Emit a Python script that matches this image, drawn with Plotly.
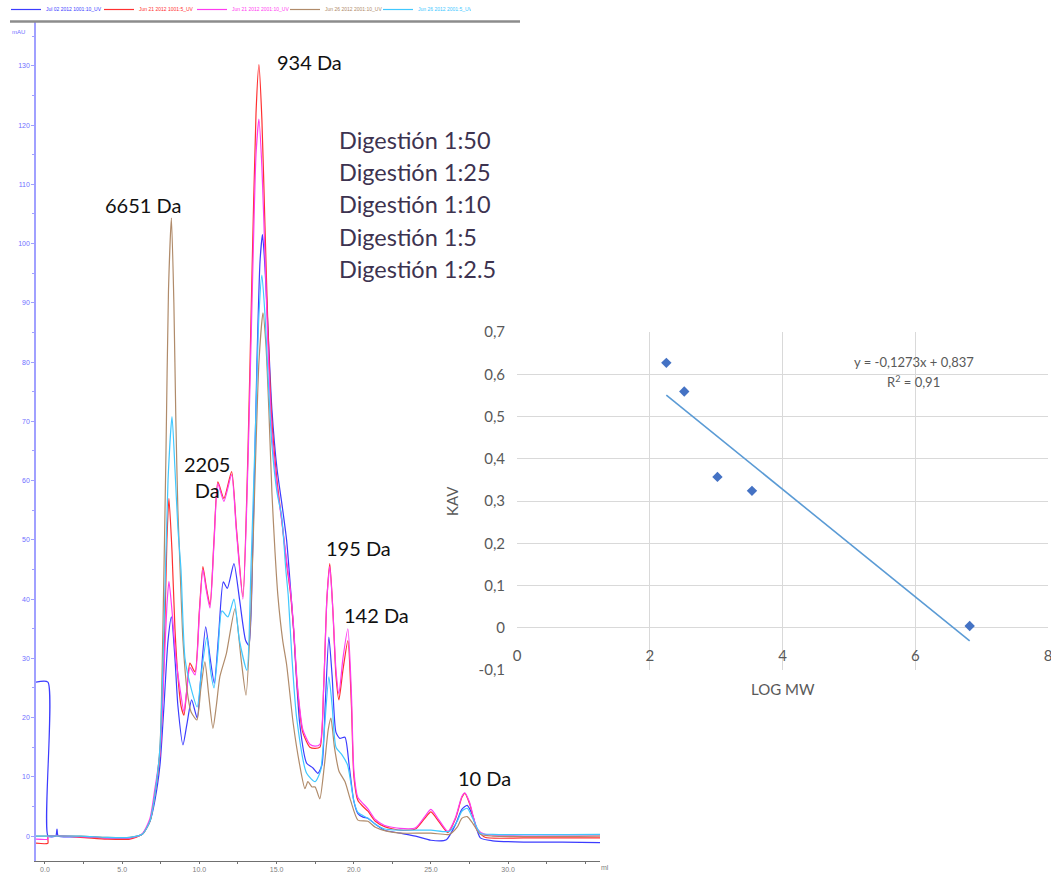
import plotly.graph_objects as go

W, H = 1051, 874

# ---------------- chromatogram data (x in ml, y in mAU) ----------------
series_names = ["Jul 02 2012 1001:10_UV", "Jun 21 2012 1001:5_UV", "Jun 21 2012 2001:10_UV",
                "Jun 26 2012 2001:10_UV", "Jun 26 2012 2001:5_UV"]
series_colors = ["#3c3cff", "#ff3030", "#ff3cf0", "#b08b6a", "#40c8ff"]

blue_x = [-0.58, 0.19, 0.2, 0.7, 0.78, 0.86, 2.3, 4.0, 5.5, 6.3, 6.8, 7.12, 7.45, 7.71, 7.97, 8.19, 8.42, 8.61,
          8.94, 9.2, 9.5, 9.86, 10.1, 10.41, 10.7, 10.97, 11.25, 11.55, 11.81, 12.24, 12.6, 13.0, 13.21, 13.47,
          13.73, 13.93, 14.09, 14.25, 14.44, 14.70, 15.03, 15.35, 15.65, 15.9, 16.1, 16.5, 16.95, 17.36, 17.68,
          17.94, 18.15, 18.39, 18.6, 18.85, 19.1, 19.43, 19.7, 20.0, 20.27, 20.6, 20.92, 21.4, 22.0, 23.0, 24.0,
          25.0, 26.0, 26.6, 27.0, 27.35, 27.7, 28.2, 29.0, 31.0, 33.5, 35.95]
blue_y = [26, 26, 0, 0, 1.2, 0, -0.1, -0.3, -0.3, 0.3, 2.5, 6, 12, 22, 33, 37, 30, 22,
          15.4, 19, 23, 19.9, 27, 35.3, 30, 25.8, 34, 42.9, 41.8, 46, 40, 33, 32.2, 50,
          80, 97, 101.5, 96, 86, 72, 62, 56, 50, 42, 35, 19, 12.3, 11.5, 10.6,
          12, 22, 33.6, 27, 17.5, 16.5, 16.7, 12, 6, 3.8, 3.2, 3, 2, 1, 0.5, 0,
          -0.7, -0.6, 2, 4.5, 5.2, 3.5, -0.3, -0.8, -1, -1, -1.1]

red_x = [-0.58, 0.19, 0.2, 2.3, 4.0, 5.5, 6.3, 6.8, 7.12, 7.45, 7.71, 7.9, 8.03, 8.23, 8.42, 8.61, 8.81, 9.0,
         9.2, 9.39, 9.72, 10.0, 10.23, 10.45, 10.69, 10.95, 11.20, 11.59, 12.09, 12.4, 12.82, 13.15, 13.41,
         13.67, 13.86, 14.05, 14.25, 14.44, 14.70, 15.03, 15.35, 15.65, 15.9, 16.1, 16.35, 16.7, 17.16, 17.5,
         17.81, 18.05, 18.26, 18.45, 18.65, 18.85, 19.04, 19.3, 19.62, 19.85, 20.01, 20.27, 20.6, 20.92, 21.4,
         22.0, 23.0, 24.0, 24.6, 25.0, 25.5, 26.1, 26.6, 27.0, 27.2, 27.5, 28.0, 28.5, 31.0, 35.95]
red_y = [-1.2, -1.2, 0, -0.2, -0.5, -0.5, 0.3, 2.5, 7, 14, 30, 50, 57, 48, 35, 27, 22, 20.4,
         25, 29.2, 27.7, 38, 45.5, 42, 39, 50, 59.8, 57, 61.5, 52, 40.4, 65, 95,
         122, 130.2, 121, 103, 86, 70, 60, 53, 46, 41, 35, 25, 17.5, 15, 14.8,
         15, 25, 40, 46, 38, 27, 23, 28, 33, 22, 10, 6, 5, 4.2, 2.5,
         1.6, 1, 1.2, 3, 4.1, 2.5, 0.6, 3, 6.5, 7.2, 5.5, 1, -0.2, -0.3, -0.3]

mag_x = [-0.58, 0.19, 0.2, 2.3, 4.0, 5.5, 6.3, 6.8, 7.12, 7.45, 7.71, 7.9, 8.03, 8.23, 8.48, 8.74, 9.0,
         9.2, 9.39, 9.72, 10.0, 10.23, 10.45, 10.69, 10.95, 11.20, 11.59, 12.09, 12.4, 12.82, 13.15, 13.41,
         13.67, 13.86, 14.05, 14.25, 14.44, 14.70, 15.03, 15.35, 15.65, 15.9, 16.1, 16.35, 16.7, 17.16, 17.5,
         17.81, 18.05, 18.26, 18.45, 18.65, 18.85, 19.04, 19.3, 19.62, 19.85, 20.01, 20.27, 20.6, 20.92, 21.4,
         22.0, 23.0, 24.0, 24.6, 25.0, 25.5, 26.1, 26.6, 27.0, 27.2, 27.5, 28.0, 28.5, 31.0, 35.95]
mag_y = [-0.5, -0.5, 0, -0.1, -0.3, -0.3, 0.4, 3, 8, 14, 28, 39, 43, 38, 30, 25, 21,
         25, 28.5, 27.2, 37.5, 45, 41.5, 38.5, 49.5, 59.5, 56.5, 61, 51.5, 40, 63, 90,
         115, 121, 113, 98, 83, 68, 59, 53, 46.5, 41.5, 35.5, 25.5, 18, 15.5, 15.2,
         15.5, 25, 40, 45.5, 38, 28, 24, 30, 35, 24, 11, 6.5, 5.5, 4.6, 2.8,
         1.8, 1.3, 1.4, 3.3, 4.5, 2.8, 0.8, 3.2, 6.7, 7.3, 5.7, 1.2, 0.3, 0.2, 0.2]

brown_x = [-0.58, 2.3, 4.0, 5.5, 6.3, 6.8, 7.12, 7.45, 7.64, 7.84, 8.0, 8.19, 8.35, 8.48, 8.61, 8.74, 8.94,
           9.2, 9.46, 9.84, 10.1, 10.36, 10.6, 10.88, 11.1, 11.33, 11.75, 12.31, 12.7, 13.02, 13.34, 13.60,
           13.86, 14.12, 14.31, 14.5, 14.7, 14.9, 15.09, 15.4, 15.65, 16.08, 16.5, 16.84, 17.03, 17.3, 17.5,
           17.8, 18.1, 18.35, 18.52, 18.75, 19.04, 19.43, 19.8, 20.27, 20.92, 21.4, 22.2, 23.0, 25.0, 26.2,
           26.7, 27.0, 27.35, 27.7, 28.2, 29.0, 35.95]
brown_y = [0, 0, -0.2, -0.2, 0.3, 2.5, 7, 15, 35, 65, 92, 104.3, 90, 70, 55, 46, 33,
           24.7, 21, 19.6, 25, 29.4, 24, 18.2, 22, 26.9, 30.8, 38.4, 30, 23.8, 38, 60,
           80, 88.3, 83, 72, 58, 48, 40.5, 33, 29, 19, 12, 8, 9.2, 8.3, 8.3,
           6.3, 12, 18, 19.9, 15, 11, 9.2, 6, 2.7, 2.5, 1.5, 0.8, 0.5, 0.5, 0.3,
           1.5, 3, 3.3, 2.2, 0.3, 0, 0]

cyan_x = [-0.58, 2.3, 4.0, 5.5, 6.3, 6.8, 7.12, 7.45, 7.71, 7.97, 8.23, 8.42, 8.61, 8.81, 9.07, 9.5, 9.86,
          10.15, 10.49, 10.72, 10.95, 11.2, 11.46, 11.85, 12.24, 12.6, 13.08, 13.34, 13.67, 13.86, 14.05,
          14.25, 14.44, 14.70, 15.03, 15.33, 15.6, 15.76, 16.0, 16.3, 16.95, 17.5, 17.85, 18.1, 18.39, 18.6,
          18.85, 19.24, 19.6, 20.0, 20.27, 20.92, 21.4, 22.0, 23.0, 25.0, 26.2, 26.7, 27.0, 27.35, 27.7,
          28.2, 29.0, 35.95]
cyan_y = [0, 0, -0.2, -0.2, 0.3, 2.5, 7, 15, 35, 60, 70.8, 62, 52, 45, 30, 24.6, 21.8,
          28, 33.6, 28, 25, 31, 38, 37, 40, 33, 28, 45, 72, 88, 94.7,
          88, 78, 66, 58, 54, 45, 40.5, 30, 20, 10.6, 9.2, 11, 18, 26.9, 22,
          15, 13.7, 12, 6, 4, 3, 2, 1.2, 1, 1, 0.8, 2.5, 4.2, 4.7, 3,
          0.5, 0.3, 0.3]

series_x = [blue_x, red_x, mag_x, brown_x, cyan_x]
series_y = [blue_y, red_y, mag_y, brown_y, cyan_y]

x_tick_vals = [0, 5, 10, 15, 20, 25, 30]
x_tick_text = ["0.0", "5.0", "10.0", "15.0", "20.0", "25.0", "30.0"]
y_tick_vals = list(range(0, 140, 10))

peak_labels = ["934 Da", "6651 Da", "2205<br>Da", "195 Da", "142 Da", "10 Da"]
digestion_labels = ["Digestión 1:50", "Digestión 1:25", "Digestión 1:10", "Digestión 1:5", "Digestión 1:2.5"]

# ---------------- calibration (inset) data ----------------
log_mw = [2.25, 2.52, 3.02, 3.54, 6.82]
kav = [0.627, 0.559, 0.357, 0.324, 0.004]
slope, intercept, r2 = -0.1273, 0.837, 0.91
inset_x_ticks = [0, 2, 4, 6, 8]
inset_y_ticks = [-0.1, 0, 0.1, 0.2, 0.3, 0.4, 0.5, 0.6, 0.7]
inset_y_text = ["-0,1", "0", "0,1", "0,2", "0,3", "0,4", "0,5", "0,6", "0,7"]


def px(x):
    return x / W


def py(y):
    return 1 - y / H


fig = go.Figure()
for name, color, xs, ys in zip(series_names, series_colors, series_x, series_y):
    fig.add_trace(go.Scatter(x=xs, y=ys, mode="lines",
                             name=f"<span style='color:{color}'>{name}</span>",
                             line=dict(color=color, width=1.2, shape="spline", smoothing=0.6),
                             xaxis="x", yaxis="y"))

fig.add_trace(go.Scatter(x=log_mw, y=kav, mode="markers", showlegend=False,
                         marker=dict(symbol="diamond", size=8, color="#4472c4"),
                         xaxis="x2", yaxis="y2"))
trend_x = [min(log_mw), max(log_mw)]
trend_y = [slope * v + intercept for v in trend_x]
fig.add_trace(go.Scatter(x=trend_x, y=trend_y, mode="lines", showlegend=False,
                         line=dict(color="#5b9bd5", width=1.6),
                         xaxis="x2", yaxis="y2"))

fig.update_layout(
    width=W, height=H,
    margin=dict(l=0, r=0, t=0, b=0, autoexpand=False),
    paper_bgcolor="white", plot_bgcolor="white",
    legend=dict(orientation="h", x=px(6), y=py(-5), xanchor="left", yanchor="top",
                font=dict(size=5, family="Liberation Sans"), bgcolor="rgba(0,0,0,0)",
                itemwidth=30, tracegroupgap=0, entrywidth=48, entrywidthmode="pixels"),
    xaxis=dict(domain=[px(36), px(600)], range=[-0.58, 35.95], anchor="y", automargin=False,
               showgrid=False, zeroline=False, showline=True, linecolor="#707070", linewidth=1,
               tickvals=x_tick_vals, ticktext=x_tick_text, ticks="outside", ticklen=2,
               tickcolor="#707070", tickfont=dict(size=7, color="#808080", family="Liberation Sans"),
               minor=dict(dtick=2.5, ticks="outside", ticklen=2, tickcolor="#707070")),
    yaxis=dict(domain=[py(861), py(22)], range=[-4.2, 137.4], anchor="x", automargin=False,
               showgrid=False, zeroline=False, showline=True, linecolor="#a0a0ff", linewidth=1.5,
               tickvals=y_tick_vals, ticks="outside", ticklen=3, tickcolor="#a0a0ff",
               tickfont=dict(size=7, color="#7070ff", family="Liberation Sans"),
               minor=dict(dtick=5, ticks="outside", ticklen=2, tickcolor="#a0a0ff")),
    xaxis2=dict(domain=[px(517), px(1048)], range=[0, 8], anchor="free", position=py(628),
                automargin=False, ticklabeloverflow="allow",
                showgrid=True, gridcolor="#d9d9d9", gridwidth=1, zeroline=False, showline=False,
                tickvals=inset_x_ticks, ticks="outside", ticklen=14, tickcolor="rgba(0,0,0,0)",
                tickfont=dict(size=15, color="#595959", family="Lato")),
    yaxis2=dict(domain=[py(670), py(332)], range=[-0.1, 0.7], anchor="x2", automargin=False,
                showgrid=True, gridcolor="#d9d9d9", gridwidth=1, zeroline=False, showline=False,
                tickvals=inset_y_ticks, ticktext=inset_y_text, ticks="outside", ticklen=8,
                tickcolor="rgba(0,0,0,0)", tickfont=dict(size=15, color="#595959", family="Lato")),
    showlegend=True,
)

# separator line under the legend
fig.add_shape(type="line", xref="paper", yref="paper", x0=px(10), x1=px(520), y0=py(21.5), y1=py(21.5),
              line=dict(color="#8c8c8c", width=2.5), layer="above")

ann = []
peak_pos = [(309, 62), (143, 205), (207, 477), (358, 548), (376, 615), (484, 778)]
for text, (ax, ay) in zip(peak_labels, peak_pos):
    ann.append(dict(x=px(ax), y=py(ay), xref="paper", yref="paper", text=text, showarrow=False,
                    xanchor="center", yanchor="middle",
                    font=dict(size=20, color="#111111", family="Lato"), align="center"))
for i, text in enumerate(digestion_labels):
    ann.append(dict(x=px(337), y=py(140 + i * 32.2), xref="paper", yref="paper", text=text,
                    showarrow=False, xanchor="left", yanchor="middle",
                    font=dict(size=23.5, color="#3d3350", family="Lato")))
ann.append(dict(x=px(18), y=py(32), xref="paper", yref="paper", text="mAU", showarrow=False,
                xanchor="center", yanchor="middle",
                font=dict(size=6, color="#7070ff", family="Liberation Sans")))
ann.append(dict(x=px(605), y=py(867), xref="paper", yref="paper", text="ml", showarrow=False,
                xanchor="center", yanchor="middle",
                font=dict(size=7, color="#808080", family="Liberation Sans")))
ann.append(dict(x=5.98, y=0.629, xref="x2", yref="y2",
                text="y = -0,1273x + 0,837", showarrow=False, xanchor="center", yanchor="middle",
                font=dict(size=13, color="#595959", family="Lato")))
ann.append(dict(x=5.98, y=0.582, xref="x2", yref="y2",
                text="R<sup>2</sup> = 0,91", showarrow=False, xanchor="center", yanchor="middle",
                font=dict(size=13, color="#595959", family="Lato")))
ann.append(dict(x=4, y=py(689), xref="x2", yref="paper", text="LOG MW", showarrow=False,
                xanchor="center", yanchor="middle",
                font=dict(size=15, color="#595959", family="Lato")))
ann.append(dict(x=px(452), y=0.3, xref="paper", yref="y2", text="KAV", showarrow=False, textangle=-90,
                xanchor="center", yanchor="middle",
                font=dict(size=15, color="#595959", family="Lato")))
fig.update_layout(annotations=ann)

fig.write_html("out.html", config={"displayModeBar": False},
               post_script="document.body.style.margin='0px';")
